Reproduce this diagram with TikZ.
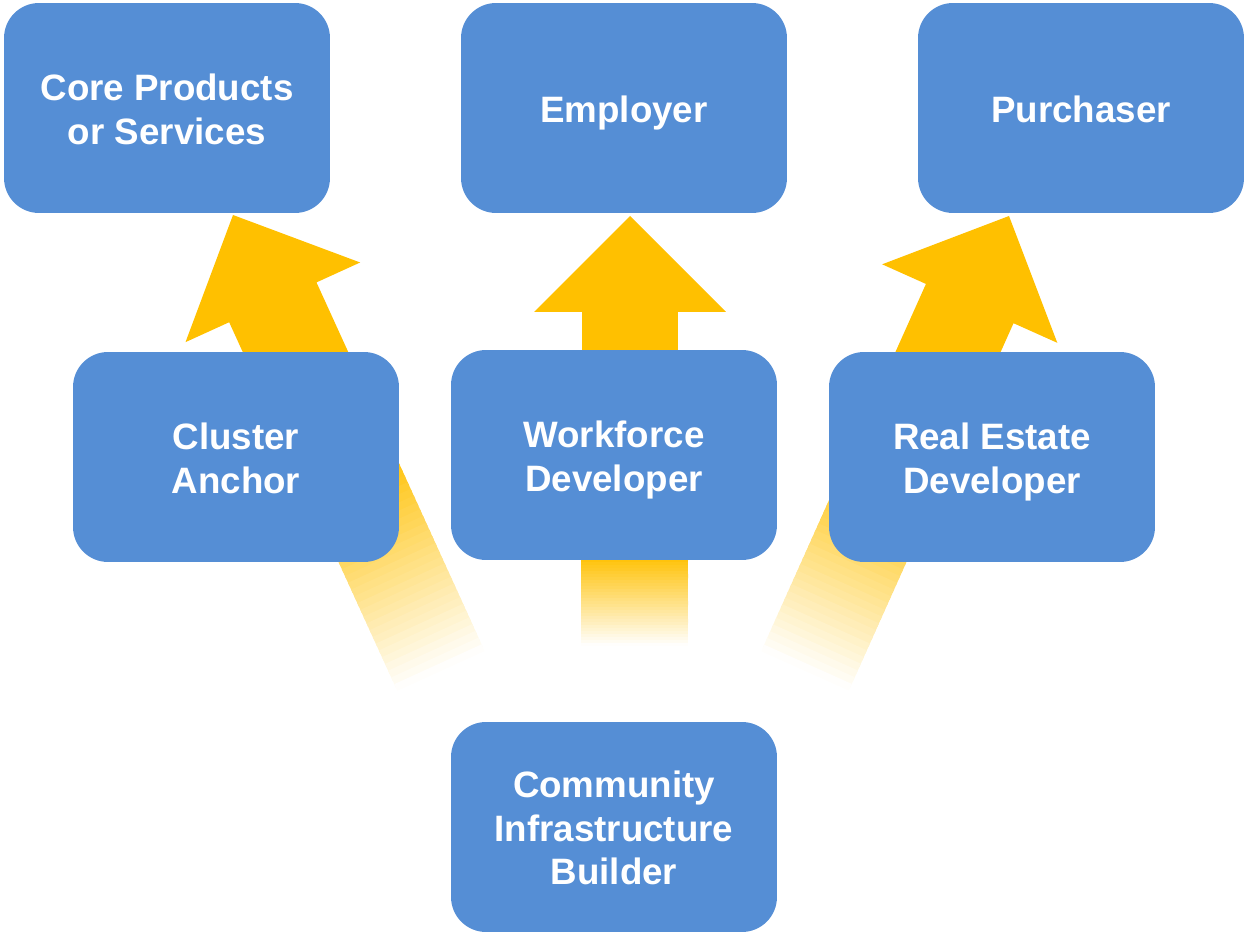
\documentclass[tikz,border=0pt]{standalone}
\usepackage{fontspec}
\setmainfont{Liberation Sans}
\usetikzlibrary{calc}

\definecolor{boxblue}{RGB}{85,142,213}
\definecolor{arrowyellow}{RGB}{255,192,0}

\tikzset{
  role/.style={fill=boxblue, rounded corners=0.7cm, minimum width=6.52cm, minimum height=4.2cm,
    inner sep=0pt, align=center, text=white, font=\fontsize{20.9}{25}\selectfont\bfseries},
}

% same line box on every row, so the labels sit a little low like in the slides
\newcommand{\boxstrut}{\rule[-4.5pt]{0pt}{25pt}}

% tail that fades out: solid at (#1)--(#2), white at (#3)--(#4)
\newcommand{\fadetail}[4]{%
  \foreach \i in {0,...,29} {
    \pgfmathsetmacro\fadefrom{\i/30}
    \pgfmathsetmacro\fadeto{min(1,(\i+1.5)/30)}
    \pgfmathtruncatemacro\fadepct{100-(\i+0.5)*100/30}
    \fill[arrowyellow!\fadepct!white] ($(#1)!\fadefrom!(#3)$) -- ($(#2)!\fadefrom!(#4)$)
      -- ($(#2)!\fadeto!(#4)$) -- ($(#1)!\fadeto!(#3)$) -- cycle;
  }}

% block arrow from tail #1 to tip #2, the fade starts at #3 of the shaft
\newcommand{\fatarrow}[3]{%
  \coordinate (hb) at ($(#2)!1.92cm!(#1)$);
  \coordinate (h1) at ($(hb)!1.92cm!90:(#2)$);
  \coordinate (h2) at ($(hb)!1.92cm!-90:(#2)$);
  \coordinate (s1) at ($(hb)!0.96cm!90:(#2)$);
  \coordinate (s2) at ($(hb)!0.96cm!-90:(#2)$);
  \coordinate (t1) at ($(#1)!0.96cm!90:(#2)$);
  \coordinate (t2) at ($(#1)!0.96cm!-90:(#2)$);
  \coordinate (f1) at ($(s1)!#3!(t1)$);
  \coordinate (f2) at ($(s2)!#3!(t2)$);
  \fill[arrowyellow] (#2) -- (h1) -- (s1) -- (f1) -- (f2) -- (s2) -- (h2) -- cycle;
  \fadetail{f1}{f2}{t1}{t2}}

\begin{document}
\begin{tikzpicture}[x=0.02cm, y=-0.02cm]
  \useasboundingbox (0,0) rectangle (1245,935);

  % arrow ends
  \coordinate (anchortail) at (441,671);
  \coordinate (coretip) at (233,215);
  \coordinate (worktail) at (630,440);
  \coordinate (employertip) at (630,216);
  \coordinate (estatetail) at (805,671);
  \coordinate (purchasertip) at (1009,216);

  % arrows go first, the boxes cover them
  \fatarrow{anchortail}{coretip}{0.45}
  \fatarrow{worktail}{employertip}{1}
  \fatarrow{estatetail}{purchasertip}{0.45}

  % short faded bar under the workforce box
  \coordinate (bar1) at (581,556);
  \coordinate (bar2) at (688,556);
  \coordinate (bar3) at (581,646);
  \coordinate (bar4) at (688,646);
  \fadetail{bar1}{bar2}{bar3}{bar4}

  % top row
  \node[role] (core) at (167,108) {\boxstrut Core Products\\or Services\boxstrut};
  \node[role] (employer) at (624,108) {\boxstrut Employer\boxstrut};
  \node[role] (purchaser) at (1081,108) {\boxstrut Purchaser\boxstrut};

  % middle row
  \node[role] (anchor) at (236,457) {\boxstrut Cluster\\Anchor\boxstrut};
  \node[role] (workforce) at (614,455) {\boxstrut Workforce\\Developer\boxstrut};
  \node[role] (realestate) at (992,457) {\boxstrut Real Estate\\Developer\boxstrut};

  % bottom
  \node[role] (community) at (614,827) {\boxstrut Community\\Infrastructure\\Builder\boxstrut};
\end{tikzpicture}
\end{document}
